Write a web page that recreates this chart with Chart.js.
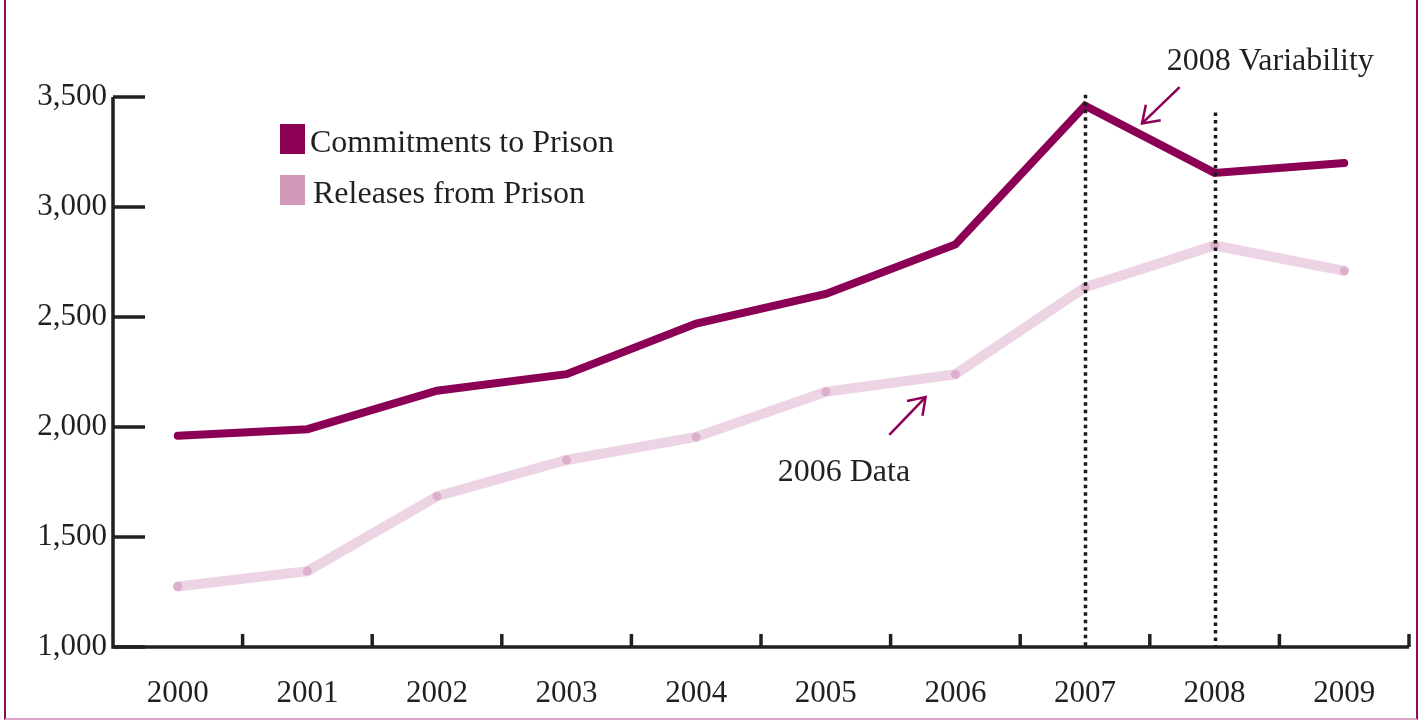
<!DOCTYPE html>
<html>
<head>
<meta charset="utf-8">
<script src="https://cdn.jsdelivr.net/npm/chart.js@4.4.0/dist/chart.umd.min.js"></script>
<style>
html, body { margin: 0; padding: 0; background: #fff; }
#wrap { position: relative; width: 1421px; height: 721px; }
#frame { position: absolute; left: 4px; top: 0; width: 1410px; height: 718px;
  border-left: 2px solid #8b0a5a; border-right: 2px solid #8b0a5a; border-bottom: 2px solid #dba6c9;
  pointer-events: none; }
</style>
</head>
<body>
<div id="wrap"><canvas id="prisonChart" width="1421" height="721"></canvas><div id="frame"></div></div>
<script>
// values
const years = ['2000', '2001', '2002', '2003', '2004', '2005', '2006', '2007', '2008', '2009'];
const commitments = [1960, 1990, 2165, 2240, 2470, 2605, 2830, 3460, 3155, 3200];
const releases = [1275, 1345, 1685, 1850, 1955, 2160, 2240, 2635, 2825, 2710];
const yTicks = [1000, 1500, 2000, 2500, 3000, 3500];
const markerYears = ['2007', '2008'];
const markerTops = [3510, 3430];

const DARK = '#8b0055';
const INK = '#231f20';
const FONT = '32px "Liberation Serif", "Times New Roman", serif';

function arrow(ctx, x1, y1, x2, y2) {
    const a = Math.atan2(y2 - y1, x2 - x1), h = 19, s = 0.6;
    ctx.beginPath();
    ctx.moveTo(x1, y1);
    ctx.lineTo(x2, y2);
    ctx.moveTo(x2 - h * Math.cos(a - s), y2 - h * Math.sin(a - s));
    ctx.lineTo(x2, y2);
    ctx.lineTo(x2 - h * Math.cos(a + s), y2 - h * Math.sin(a + s));
    ctx.stroke();
}

const decorations = {
    id: 'decorations',
    afterDatasetsDraw(chart) {
        const ctx = chart.ctx;
        const x = chart.scales.x, y = chart.scales.y;
        const area = chart.chartArea;
        ctx.save();

        // dotted markers
        ctx.strokeStyle = '#1a1a1a';
        ctx.lineWidth = 3.5;
        ctx.setLineDash([3.5, 4]);
        markerYears.forEach((yr, i) => {
            const px = Math.round(x.getPixelForValue(years.indexOf(yr))) + 0.5;
            ctx.beginPath();
            ctx.moveTo(px, y.getPixelForValue(markerTops[i]));
            ctx.lineTo(px, area.bottom);
            ctx.stroke();
        });
        ctx.setLineDash([]);

        // axes
        ctx.strokeStyle = INK;
        ctx.lineWidth = 3.5;
        ctx.lineCap = 'butt';
        ctx.beginPath();
        ctx.moveTo(area.left, y.getPixelForValue(3500));
        ctx.lineTo(area.left, area.bottom);
        ctx.lineTo(area.right, area.bottom);
        ctx.stroke();
        yTicks.forEach(v => {
            const py = y.getPixelForValue(v);
            ctx.beginPath();
            ctx.moveTo(area.left, py);
            ctx.lineTo(area.left + 32, py);
            ctx.stroke();
        });
        for (let i = 1; i <= years.length; i++) {
            const px = x.getPixelForValue(i - 0.5);
            ctx.beginPath();
            ctx.moveTo(px, area.bottom);
            ctx.lineTo(px, area.bottom - 13);
            ctx.stroke();
        }

        // annotations
        ctx.strokeStyle = DARK;
        ctx.lineWidth = 2.5;
        arrow(ctx, x.getPixelForValue(7.73), y.getPixelForValue(3545),
                   x.getPixelForValue(7.44), y.getPixelForValue(3380));
        arrow(ctx, x.getPixelForValue(5.49), y.getPixelForValue(1964),
                   x.getPixelForValue(5.77), y.getPixelForValue(2136));
        ctx.fillStyle = INK;
        ctx.font = FONT;
        ctx.textAlign = 'center';
        ctx.textBaseline = 'middle';
        ctx.fillText('2008 Variability', x.getPixelForValue(8.43), y.getPixelForValue(3660));
        ctx.fillText('2006 Data', x.getPixelForValue(5.14), y.getPixelForValue(1795));

        // legend
        ctx.textAlign = 'left';
        chart.data.datasets.forEach((ds, i) => {
            const top = 124 + i * 51;
            ctx.fillStyle = ds.legendColor;
            ctx.fillRect(280, top, 25, 30);
            ctx.fillStyle = INK;
            ctx.fillText(ds.label, 310 + i * 3, top + 20);
        });
        ctx.restore();
    }
};

new Chart(document.getElementById('prisonChart'), {
    type: 'line',
    data: {
        labels: years,
        datasets: [
            {
                label: 'Commitments to Prison',
                data: commitments,
                borderColor: DARK,
                legendColor: DARK,
                borderWidth: 8,
                borderCapStyle: 'round',
                borderJoinStyle: 'miter',
                pointRadius: 0,
                order: 1,
            },
            {
                label: 'Releases from Prison',
                data: releases,
                borderColor: 'rgba(215, 160, 195, 0.45)',
                backgroundColor: 'rgba(215, 160, 195, 0.7)',
                legendColor: '#d09ab8',
                borderWidth: 10,
                borderCapStyle: 'round',
                pointRadius: 4.5,
                pointBorderWidth: 0,
                order: 2,
            },
        ]
    },
    options: {
        responsive: false,
        animation: false,
        layout: { padding: { top: 97, right: 12, left: 0, bottom: 0 } },
        plugins: { legend: { display: false }, tooltip: { enabled: false } },
        scales: {
            x: {
                offset: true,
                grid: { display: false, drawTicks: false },
                border: { display: false },
                ticks: { font: { family: '"Liberation Serif", serif', size: 31 }, color: INK, padding: 28, maxRotation: 0 },
                afterFit(scale) { scale.height = 74; }
            },
            y: {
                min: 1000,
                max: 3500,
                grid: { display: false, drawTicks: false },
                border: { display: false },
                afterBuildTicks(scale) { scale.ticks = yTicks.map(v => ({ value: v })); },
                ticks: {
                    font: { family: '"Liberation Serif", serif', size: 31 },
                    color: INK,
                    padding: 6,
                    callback: v => v.toLocaleString('en-US')
                },
                afterFit(scale) { scale.width = 113; }
            }
        }
    },
    plugins: [decorations]
});
</script>
</body>
</html>
